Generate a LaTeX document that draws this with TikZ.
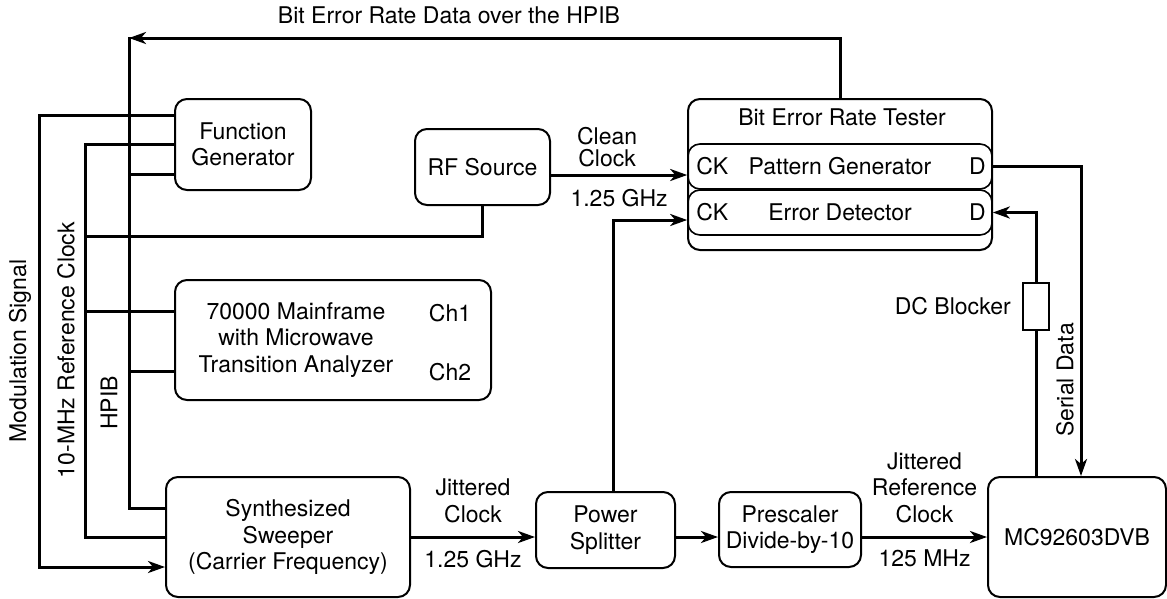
\documentclass[tikz,border=0pt]{standalone}
\usepackage{fontspec}
\setmainfont{TeX Gyre Heros}
\usetikzlibrary{arrows.meta,positioning}

\begin{document}
\begin{tikzpicture}[
  x=1pt, y=-1pt,
  >={Stealth[length=17pt,width=12pt,inset=5pt]},
  txt/.style={font=\fontsize{23}{26.5}\selectfont, align=center, inner sep=2pt},
  box/.style={txt, draw, line width=2pt, rounded corners=12pt},
  wire/.style={line width=3pt},
  arr/.style={->, line width=3pt},
]
\useasboundingbox (0,0) rectangle (1167,598);
%% bus columns on the left
\coordinate (modbus) at (39,300);
\coordinate (refbus) at (85,236);
\coordinate (hpib) at (129,38);
\coordinate (sdx) at (1081,300);
%% instruments
\node[box, minimum width=136pt, minimum height=91pt] (fg) at (243,144.5)
  {Function\\Generator};
\node[box, minimum width=135pt, minimum height=76pt] (rf) at (482.5,167)
  {RF Source};
\node[box, minimum width=316pt, minimum height=120pt] (mf) at (333,340) {};
\node[txt] (mftxt) at (296,340)
  {70000 Mainframe\\with Microwave\\Transition Analyzer};
\node[txt] (ch1) at (450,313) {Ch1};
\node[txt] (ch2) at (450,372) {Ch2};
\node[box, minimum width=244pt, minimum height=120pt] (sw) at (288,537)
  {Synthesized\\Sweeper\\(Carrier Frequency)};
\node[box, minimum width=139pt, minimum height=76pt] (ps) at (605.5,530)
  {Power\\Splitter};
\node[box, minimum width=142pt, minimum height=75pt, inner sep=0pt] (pre) at (790,529.5)
  {Prescaler\\Divide-by-10};
\node[box, minimum width=178pt, minimum height=120pt] (mc) at (1077,537)
  {MC92603DVB};
%% bit error rate tester
\node[box, minimum width=304pt, minimum height=151pt] (bert) at (840,174.5) {};
\node[txt] (berttl) at (842,117) {Bit Error Rate Tester};
\node[box, line width=1.6pt, minimum width=304pt, minimum height=45pt] (pg) at (840,166.5)
  {Pattern Generator};
\node[box, line width=1.6pt, minimum width=304pt, minimum height=45pt] (ed) at (840,212.5)
  {Error Detector};
\node[txt, right=7pt of pg.west] (pgck) {CK};
\node[txt, left=5pt of pg.east] (pgd) {D};
\node[txt, right=7pt of ed.west] (edck) {CK};
\node[txt, left=5pt of ed.east] (edd) {D};
%% dc blocker
\node[draw, line width=2pt, minimum width=26pt, minimum height=47pt, inner sep=0pt]
  (dcb) at (1036,306.5) {};
\node[txt, left=9pt of dcb] (dcblbl) {DC Blocker};
%% free labels
\node[txt] (hpiblbl) at (449,15) {Bit Error Rate Data over the HPIB};
\node[txt, rotate=90] (modlbl) at (20,351) {Modulation Signal};
\node[txt, rotate=90] (reflbl) at (66,350) {10-MHz Reference Clock};
\node[txt, rotate=90] (buslbl) at (109,403) {HPIB};
\node[txt, rotate=90] (sdlbl) at (1065,380) {Serial Data};
%% HPIB bus
\draw[arr] (bert.north) |- (hpib);
\draw[wire, line cap=rect] (hpib) |- ([yshift=29pt]sw.west);
\draw[wire] ([yshift=-29.5pt]fg.west) coordinate (fgh) -- (fgh -| hpib);
\draw[wire] ([yshift=-31pt]mf.west) coordinate (mfh) -- (mfh -| hpib);
%% reference clock and modulation
\draw[wire] (fg.west) -| (refbus) |- (sw.west);
\draw[wire] ([yshift=29pt]mf.west) coordinate (mfr) -- (mfr -| refbus);
\draw[wire] (rf.south) |- (refbus);
\draw[arr] ([yshift=29.5pt]fg.west) -| (modbus) |- ([yshift=-30pt]sw.west);
%% clock path
\draw[arr] ([yshift=-8pt]rf.east) -- ([yshift=-8pt]rf.east -| pg.west)
  node[txt, midway, above=5pt, xshift=-12pt, font=\fontsize{23}{22}\selectfont] {Clean\\Clock}
  node[txt, midway, below=11pt] {1.25 GHz};
\draw[arr] (sw.east) -- (ps.west |- sw.east)
  node[txt, midway, above=11pt] {Jittered\\Clock}
  node[txt, midway, below=9.5pt] {1.25 GHz};
\draw[arr] (ps.east |- sw.east) -- (pre.west |- sw.east);
\draw[arr] (pre.east |- sw.east) -- (mc.west |- sw.east)
  node[txt, midway, above=11pt] {Jittered\\Reference\\Clock}
  node[txt, midway, below=9.5pt] {125 MHz};
\draw[arr] ([xshift=8pt]ps.north) |- ([yshift=-7.5pt]ed.west);
%% data path
\draw[arr] (pg.east) -| (sdx |- mc.north);
\draw[wire] (dcb.south |- mc.north) -- (dcb.south);
\draw[arr] (dcb.north) |- (ed.east);
\end{tikzpicture}
\end{document}
